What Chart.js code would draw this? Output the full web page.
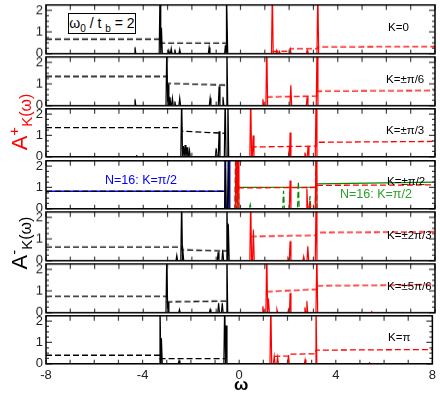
<!DOCTYPE html>
<html>
<head>
<meta charset="utf-8">
<script src="https://cdn.jsdelivr.net/npm/chart.js@4.4.0/dist/chart.umd.min.js"></script>
<style>
body { margin: 0; background: #fff; width: 440px; height: 393px; overflow: hidden; position: relative;
       font-family: "Liberation Sans", Arial, sans-serif; }
canvas { position: absolute; left: 0; }
.lbl { position: absolute; font-size: 11.5px; white-space: nowrap; line-height: 1; }
.ylab { position: absolute; white-space: nowrap; line-height: 1; transform: translate(-50%, -50%) rotate(-90deg); font-size: 22px; }
.ylab sup, .ylab sub { font-size: 15px; }
.box { position: absolute; left: 68px; top: 13px; width: 66px; height: 19px; border: 1.5px solid #000;
       font-size: 14px; text-align: center; line-height: 19px; background: #fff; }
.box sub { font-size: 10px; }
</style>
</head>
<body>

<script>
// omega axis
const xTickVals = [-8, -4, 0, 4, 8];
const yTickVals = [0, 1, 2];
const panelLabels = ['K=0', 'K=\u00b1\u03c0/6', 'K=\u00b1\u03c0/3', 'K=\u00b1\u03c0/2', 'K=\u00b12\u03c0/3', 'K=\u00b15\u03c0/6', 'K=\u03c0'];

// A^-_K(w): black peaks [omega, height] and integrated weight (dashed)
const blackPeaks = [
    [[-4.34, 0.3], [-3.31, 3], [-3.25, 1.2], [-2.95, 0.15], [-2.85, 0.25], [-2.7, 0.2], [-2.5, 0.2], [-1.29, 0.3], [-0.62, 0.4], [-0.56, 3]],
    [[-4.34, 0.3], [-3.03, 3], [-2.98, 1.0], [-2.9, 0.4], [-2.8, 0.35], [-2.7, 0.2], [-2.5, 0.35], [-1.25, 0.35], [-0.88, 0.9], [-0.72, 0.4], [-0.56, 3]],
    [[-4.27, 0.05], [-2.42, 3], [-2.35, 0.5], [-2.28, 0.55], [-2.2, 0.45], [-2.1, 0.3], [-1.0, 0.4], [-0.88, 1.2], [-0.63, 3], [-0.52, 3]],
    [[-0.62, 3], [-0.5, 3]],
    [[-2.62, 0.25], [-2.42, 3], [-2.37, 0.7], [-0.92, 0.4], [-0.73, 0.5], [-0.56, 3], [-0.5, 1.7]],
    [[-3.03, 3], [-2.98, 0.5], [-2.51, 0.15], [-1.25, 0.15], [-0.9, 0.45], [-0.75, 0.45], [-0.56, 3]],
    [[-3.28, 3], [-3.22, 1.2], [-2.49, 0.15], [-0.6, 3], [-0.54, 1.8]]
];
const blackDash = [
    [[-8, 0.67], [-3.31, 0.67], [-3.31, 0.49], [-0.56, 0.49]],
    [[-8, 1.35], [-3.03, 1.35], [-3.03, 1.03], [-0.56, 0.95]],
    [[-8, 1.37], [-2.42, 1.37], [-2.42, 1.2], [-0.6, 1.1]],
    [[-8, 0.82], [-0.63, 0.82]],
    [[-8, 0.63], [-2.42, 0.63], [-2.42, 0.5], [-0.56, 0.45]],
    [[-8, 0.76], [-3.03, 0.76], [-3.03, 0.5], [-0.56, 0.54]],
    [[-8, 0.4], [-3.28, 0.4], [-3.28, 0.24], [-0.56, 0.24]]
];

// A^+_K(w): red peaks and integrated weight (dashed)
const redPeaks = [
    [[1.31, 3], [1.49, 0.15], [1.6, 0.1], [2.05, 0.2], [2.74, 0.15], [3.18, 3]],
    [[0.92, 0.3], [1.08, 3], [2.07, 0.95], [2.74, 0.4], [3.15, 3]],
    [[0.42, 3], [0.52, 1.0], [2.0, 0.3], [2.04, 1.14], [2.65, 0.2], [2.78, 0.5], [3.11, 3]],
    [[-0.18, 3], [-0.1, 3], [2.04, 1.33], [2.73, 0.95], [2.85, 0.3], [3.11, 3]],
    [[0.42, 3], [0.53, 1.43], [1.95, 0.1], [2.04, 0.9], [2.6, 0.2], [2.77, 0.67], [3.11, 3]],
    [[0.92, 0.3], [1.08, 3], [1.15, 0.67], [1.5, 0.15], [1.98, 0.15], [2.04, 0.92], [2.65, 0.25], [2.73, 0.54], [3.14, 3], [5.4, 0.05]],
    [[1.31, 3], [1.45, 0.35], [1.59, 0.3], [2.04, 0.4], [2.73, 0.2], [3.18, 3], [5.4, 0.05]]
];
const redDash = [
    [[1.31, 0.1], [2.04, 0.12], [2.04, 0.23], [3.18, 0.23], [3.18, 0.31], [8, 0.33]],
    [[1.08, 0.4], [3.15, 0.45], [3.15, 0.67], [8, 0.7]],
    [[0.42, 0.46], [3.11, 0.5], [3.11, 0.68], [8, 0.72]],
    [[-0.1, 0.98], [3.11, 1.0], [3.11, 1.1], [8, 1.12]],
    [[0.42, 1.12], [3.11, 1.17], [3.11, 1.3], [8, 1.33]],
    [[1.08, 0.97], [3.14, 1.08], [3.14, 1.24], [8, 1.29]],
    [[1.45, 0.35], [2.04, 0.37], [2.04, 0.45], [3.18, 0.47], [3.18, 0.64], [8, 0.67]]
];

// N=16 results for K=pi/2
const bluePeaks = [[-0.64, 3], [-0.47, 3]];
const blueLevel = [[-8, 0.82], [-0.64, 0.82]];
const greenPeaks = [[-0.2, 3], [-0.1, 3], [0.4, 0.2], [1.77, 0.85], [2.38, 1.28], [2.86, 0.6], [3.11, 3]];
const greenLevel = [[-0.1, 1.0], [3.11, 1.02], [3.11, 1.17], [8, 1.25]];

const panelTop = [5, 56.8, 108.6, 160.4, 212.2, 264, 315.8];
const panelH = 48;

function pts(arr) {
    return arr.map(p => ({ x: p[0], y: p[1] }));
}

function spikes(peaks, from, to) {
    const out = [{ x: from, y: 0 }];
    peaks.slice().sort((a, b) => a[0] - b[0]).forEach(p => {
        out.push({ x: p[0] - 0.035, y: 0 }, { x: p[0], y: p[1] }, { x: p[0] + 0.035, y: 0 });
    });
    out.push({ x: to, y: 0 });
    return out;
}

function line(data, color, dashed, width) {
    return {
        data: data,
        borderColor: color,
        borderWidth: width || 1.2,
        borderDash: dashed ? [6, 3] : [],
        showLine: true,
        pointRadius: 0,
        fill: false,
        tension: 0
    };
}

// frame and inward ticks, drawn on top of the data
const framePlugin = {
    id: 'frame',
    afterDatasetsDraw(chart) {
        const { ctx, chartArea: a, scales } = chart;
        const xs = scales.x, ys = scales.y;
        ctx.save();
        ctx.strokeStyle = '#444';
        ctx.lineWidth = 1.2;
        ctx.beginPath();
        for (let v = -8; v <= 8; v++) {
            const px = xs.getPixelForValue(v);
            ctx.moveTo(px, a.top); ctx.lineTo(px, a.top + 5);
            ctx.moveTo(px, a.bottom); ctx.lineTo(px, a.bottom - 4);
        }
        for (let v = 0; v <= 2.2; v += 0.25) {
            const py = ys.getPixelForValue(v);
            const len = Number.isInteger(v) ? 6 : 3;
            ctx.moveTo(a.left, py); ctx.lineTo(a.left + len, py);
            ctx.moveTo(a.right, py); ctx.lineTo(a.right - len, py);
        }
        ctx.stroke();
        ctx.strokeStyle = '#000';
        ctx.lineWidth = 1.5;
        ctx.strokeRect(a.left, a.top, a.right - a.left, a.bottom - a.top);
        ctx.restore();
    }
};

for (let i = 0; i < 7; i++) {
    const last = i === 6;
    const canvas = document.createElement('canvas');
    canvas.width = 440;
    canvas.height = last ? panelH + 40 : panelH + 20;
    document.body.appendChild(canvas);

    const datasets = [
        line(pts(blackDash[i]), '#000', true, 1.3),
        line(spikes(blackPeaks[i], -8, -0.4), '#000', false),
        line(spikes(redPeaks[i], -2.7, 8), '#f00', false),
        line(pts(redDash[i]), '#f00', true, 1.3)
    ];
    if (i === 3) {
        datasets.push(line(pts(blueLevel), '#00f', false, 1.4));
        datasets.push(line(pts(blackDash[i]), '#000', true, 1));
        datasets.push(line(spikes(bluePeaks, -0.8, 1.6), '#00f', false, 1.1));
        datasets.push(line(spikes(greenPeaks, -0.3, 3.3), '#008800', true));
        datasets.push(line(pts(greenLevel), '#008800', false, 1.3));
    }

    const chart = new Chart(canvas, {
        type: 'scatter',
        data: { datasets: datasets },
        plugins: [framePlugin],
        options: {
            responsive: false,
            maintainAspectRatio: false,
            animation: false,
            events: [],
            layout: { padding: { top: 2, right: 5, left: 0, bottom: 2 } },
            plugins: { legend: { display: false }, tooltip: { enabled: false } },
            scales: {
                x: {
                    type: 'linear',
                    min: -8,
                    max: 8,
                    display: last,
                    grid: { display: false, drawTicks: false },
                    border: { display: false },
                    afterBuildTicks: s => { s.ticks = xTickVals.map(v => ({ value: v })); },
                    ticks: { padding: 4, color: '#222', font: { family: 'Liberation Sans', size: 13 } }
                },
                y: {
                    min: 0,
                    max: 2.25,
                    grid: { display: false, drawTicks: false },
                    border: { display: false },
                    afterBuildTicks: s => { s.ticks = yTickVals.map(v => ({ value: v })); },
                    afterFit: s => { s.width = 46; },
                    ticks: { padding: 3, color: '#222', font: { family: 'Liberation Sans', size: 13 } }
                }
            }
        }
    });

    // make the plot area exactly panelH tall and put it at panelTop
    const a = chart.chartArea;
    const extra = panelH - (a.bottom - a.top);
    chart.resize(440, canvas.height + extra);
    canvas.style.top = (panelTop[i] - chart.chartArea.top) + 'px';
}

// panel texts
const labelPos = [[388, 28], [386, 80], [386, 131], [387, 182], [387, 236], [387, 287], [388, 338]];
panelLabels.forEach((t, i) => {
    const d = document.createElement('div');
    d.className = 'lbl';
    d.textContent = t;
    d.style.left = labelPos[i][0] + 'px';
    d.style.top = (labelPos[i][1] - 6) + 'px';
    document.body.appendChild(d);
});
</script>

<div class="lbl" style="left:105px;top:174px;font-size:12.5px;color:#0000ff;">N=16: K=&pi;/2</div>
<div class="lbl" style="left:340px;top:188px;font-size:12.5px;color:#2ca02c;">N=16: K=&pi;/2</div>
<div class="box">&omega;<sub>0</sub> / t <sub>b</sub> = 2</div>
<div class="ylab" style="left:20px;top:122px;color:#f00;">A<sup>+</sup><sub>K</sub><span style="font-size:16px;position:relative;top:4px;">(&omega;)</span></div>
<div class="ylab" style="left:20px;top:243px;color:#000;">A<sup>-</sup><sub>K</sub><span style="font-size:16px;position:relative;top:4px;">(&omega;)</span></div>
<div class="lbl" style="left:234px;top:376px;font-size:17px;font-weight:bold;">&omega;</div>

</body>
</html>
